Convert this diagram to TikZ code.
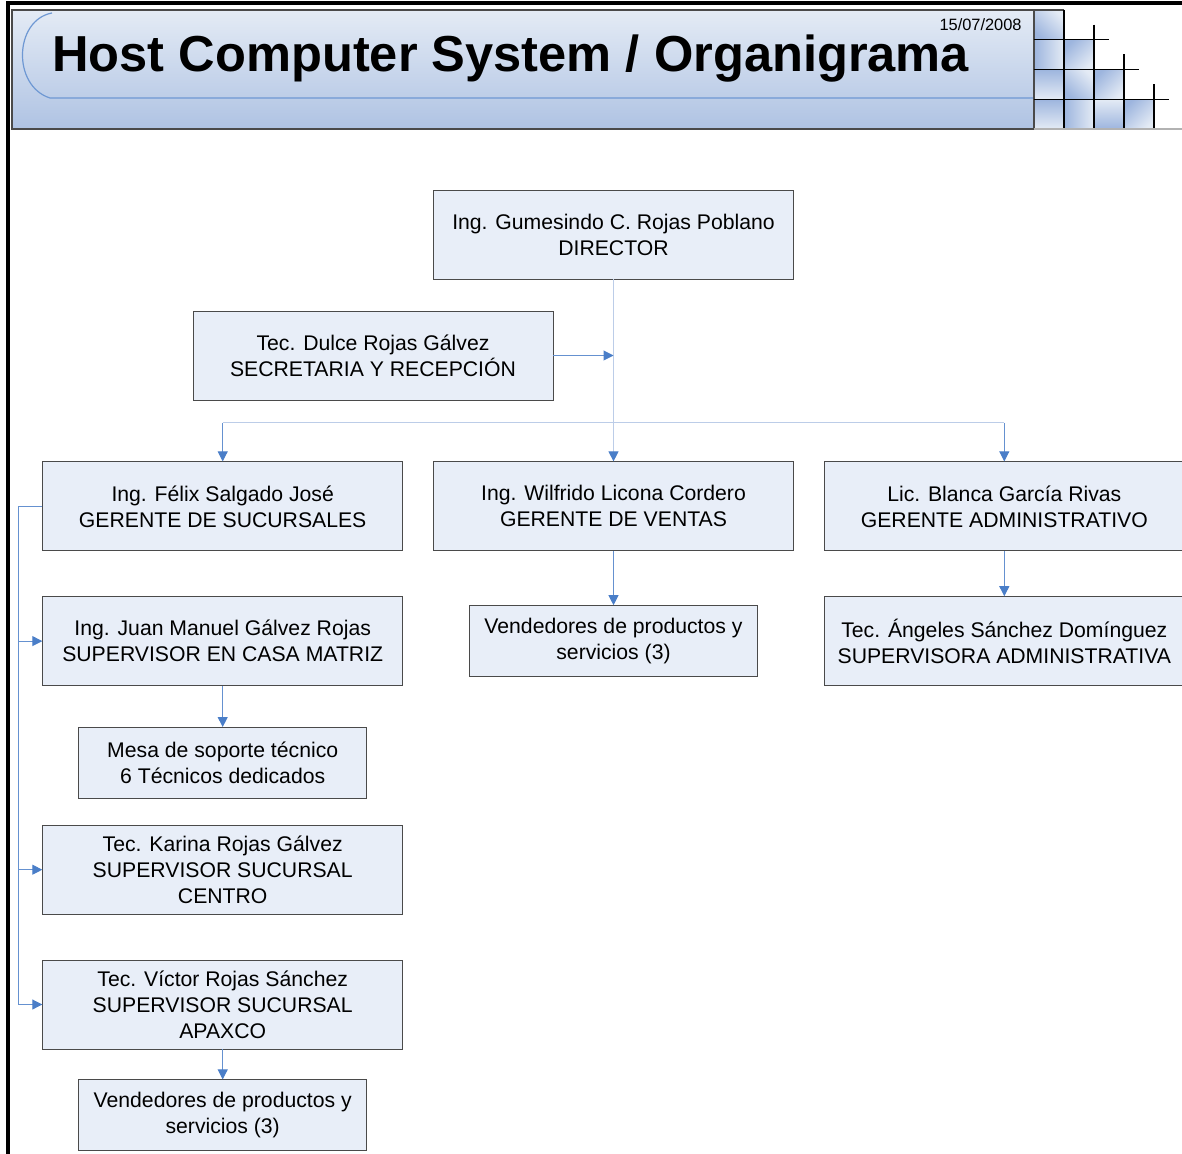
\documentclass[tikz,border=0pt]{standalone}
\usepackage{fontspec}
\setmainfont{Liberation Sans}
\usetikzlibrary{positioning,calc,arrows.meta}

\definecolor{boxfill}{HTML}{E8EEF8}
\definecolor{boxline}{HTML}{4A4A4A}
\definecolor{linkblue}{HTML}{4A7EC8}
\definecolor{paleblue}{HTML}{BCCDE8}
\definecolor{bandtop}{HTML}{E4EBF5}
\definecolor{bandbot}{HTML}{AFC3E3}
\definecolor{tiledark}{HTML}{9DB5DE}

\begin{document}
\begin{tikzpicture}[
    x=0.5pt, y=-0.5pt,
    % Define styles for the boxes
    block/.style={
        rectangle,
        draw=boxline,
        fill=boxfill,
        text centered,
        align=center,
        inner sep=0pt,
        font=\fontsize{10.6}{13}\selectfont,
        minimum height=44.5pt,
        minimum width=180pt
    },
    small_block/.style={
        block,
        minimum height=35.5pt,
        minimum width=144pt
    },
    line/.style={
        draw=linkblue!85,
        -{Triangle[length=5pt,width=5pt,color=linkblue]},
        line width=0.5pt
    },
    trunk/.style={
        line,
        draw=paleblue
    }
]

\path[use as bounding box, clip] (0,0) rectangle (1182,1154);

% Header band
\shade[top color=bandtop, bottom color=bandbot, draw=boxline, line width=0.6pt] (12,10) rectangle (1034,129);
\draw[linkblue!80, line width=0.6pt] (52,13) .. controls (14,20) and (12,86) .. (50,98) -- (1034,98);
\node[anchor=base west, inner sep=0pt, font=\fontsize{25.3}{30}\selectfont\bfseries] (title) at (52,72) {Host Computer System / Organigrama};
\node[anchor=base east, inner sep=0pt, font=\fontsize{8.2}{10}\selectfont] (date) at (1022,31) {15/07/2008};

% Corner tiles
\foreach \i/\j/\ang in {0/0/135, 0/1/90, 1/1/45, 0/2/0, 1/2/135, 2/2/45, 0/3/0, 1/3/90, 2/3/180, 3/3/45}
    \shade[left color=tiledark, right color=bandtop, shading angle=\ang] (1034+30*\i,10+29.75*\j) rectangle ++(30,29.75);
\draw[boxline, line width=0.6pt] (1034,10) -- (1064,10) (1034,10) -- (1034,129);
\foreach \k in {1,...,4} {
    \pgfmathsetmacro{\ys}{max(10,10+29.75*(\k-1)-15)}
    \draw[black, line width=0.6pt] (1034+30*\k,\ys) -- (1034+30*\k,129);
}
\foreach \k in {1,...,3}
    \draw[black, line width=0.6pt] (1034,10+29.75*\k) -- (1034+30*\k+45,10+29.75*\k);
\draw[gray!60, line width=0.6pt] (1034,129) -- (1182,129);

% Page frame
\draw[black, line width=2pt] (8,1154) -- (8,3) -- (1182,3);

% Place the boxes
\node[block] (director) at (613.5,234.5) {Ing. Gumesindo C. Rojas Poblano\\DIRECTOR};
\node[block] (secretaria) at (373,355.5) {Tec. Dulce Rojas Gálvez\\SECRETARIA Y RECEPCIÓN};
\node[block, below=91pt of director] (ventas) {Ing. Wilfrido Licona Cordero\\GERENTE DE VENTAS};
\node[block, left=15pt of ventas] (sucursales) {Ing. Félix Salgado José\\GERENTE DE SUCURSALES};
\node[block, right=15pt of ventas] (admin) {Lic. Blanca García Rivas\\GERENTE ADMINISTRATIVO};
\node[small_block, below=27pt of ventas] (vendedores) {Vendedores de productos y\\servicios (3)};
\node[block, below=22.5pt of admin] (supadmin) {Tec. Ángeles Sánchez Domínguez\\SUPERVISORA ADMINISTRATIVA};
\node[block, below=22.5pt of sucursales] (matriz) {Ing. Juan Manuel Gálvez Rojas\\SUPERVISOR EN CASA MATRIZ};
\node[small_block, below=20.5pt of matriz] (soporte) {Mesa de soporte técnico\\6 Técnicos dedicados};
\node[block, below=13pt of soporte] (centro) {Tec. Karina Rojas Gálvez\\SUPERVISOR SUCURSAL\\CENTRO};
\node[block, below=22.5pt of centro] (apaxco) {Tec. Víctor Rojas Sánchez\\SUPERVISOR SUCURSAL\\APAXCO};
\node[small_block, below=15pt of apaxco] (vendapaxco) {Vendedores de productos y\\servicios (3)};

% Draw the connections
\draw[trunk] (director) -- (ventas);
\draw[line] (secretaria.east) -- (secretaria -| director);

% Bus to the managers
\coordinate (bus) at (613.5,423);
\draw[paleblue, line width=0.5pt] (sucursales.north |- bus) -- (admin.north |- bus);
\draw[line] (sucursales.north |- bus) -- (sucursales.north);
\draw[line] (admin.north |- bus) -- (admin.north);

% Branches under each manager
\draw[line] (ventas) -- (vendedores);
\draw[line] (admin) -- (supadmin);
\draw[line] (matriz) -- (soporte);
\draw[line] (apaxco) -- (vendapaxco);

% Spine on the left of the branch offices
\coordinate (spine) at ($(sucursales.west)+(-12pt,0)$);
\draw[line] (sucursales.west) -- (spine) |- (apaxco.west);
\draw[line] (spine |- matriz.west) -- (matriz.west);
\draw[line] (spine |- centro.west) -- (centro.west);

\end{tikzpicture}
\end{document}
